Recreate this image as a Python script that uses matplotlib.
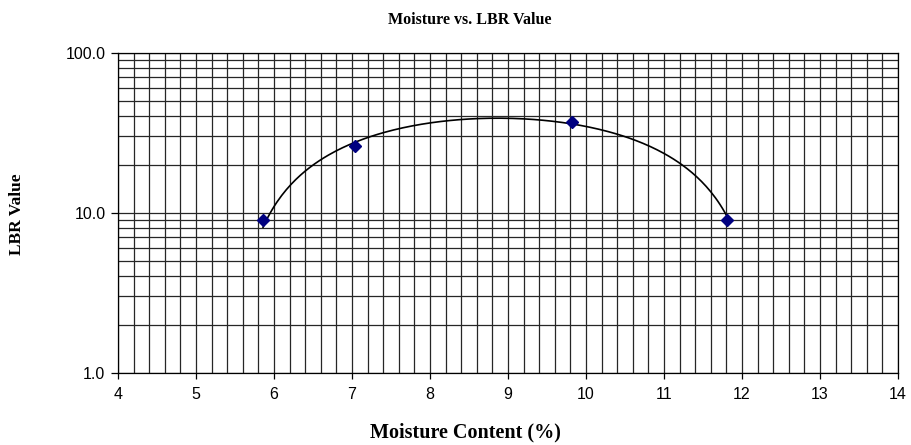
import numpy as np
import matplotlib
matplotlib.use("Agg")
import matplotlib.pyplot as plt
from matplotlib.ticker import MultipleLocator, LogLocator, FormatStrFormatter, NullFormatter

# data
moisture = [5.86, 7.04, 9.82, 11.81]
lbr = [9.0, 26.0, 37.0, 9.0]

# polynomial trendline (order 2), like the spreadsheet one
coef = np.polyfit(moisture, lbr, 2)
xs = np.linspace(min(moisture), max(moisture), 200)
ys = np.polyval(coef, xs)

W, H = 911, 445
fig = plt.figure(figsize=(W / 100, H / 100), dpi=100)
ax = fig.add_axes([118 / W, 1 - 372.7 / H, 780 / W, 320 / H])

ax.set_yscale('log')
ax.set_xlim(4, 14)
ax.set_ylim(1, 100)

ax.xaxis.set_major_locator(MultipleLocator(1))
ax.xaxis.set_minor_locator(MultipleLocator(0.2))
ax.yaxis.set_major_locator(LogLocator(base=10))
ax.yaxis.set_minor_locator(LogLocator(base=10, subs=np.arange(2, 10)))
ax.yaxis.set_major_formatter(FormatStrFormatter('%.1f'))
ax.yaxis.set_minor_formatter(NullFormatter())

ax.grid(which='both', color='#262626', lw=0.9)
ax.set_axisbelow(True)
ax.tick_params(which='minor', length=0)
ax.tick_params(axis='y', which='major', direction='out', length=5, width=0.9,
               labelsize=11.5, pad=4)
ax.tick_params(axis='x', which='major', direction='out', length=4, width=0.9,
               labelsize=11.5, pad=6)
for lbl in ax.get_xticklabels() + ax.get_yticklabels():
    lbl.set_fontfamily('Liberation Sans')
for s in ax.spines.values():
    s.set_color('black')
    s.set_linewidth(0.9)

ax.plot(xs, ys, color='black', lw=1.2, zorder=3)
ax.plot(moisture, lbr, linestyle='none', marker='D', ms=6,
        color='#000080', zorder=4)

serif = dict(fontfamily='Liberation Serif', fontweight='bold')
fig.text(470 / W, 1 - 20 / H, 'Moisture vs. LBR Value', ha='center',
         va='center', fontsize=11.5, **serif)
fig.text(465 / W, 1 - 432 / H, 'Moisture Content (%)', ha='center',
         va='center', fontsize=14.5, **serif)
fig.text(17 / W, 1 - 214 / H, 'LBR Value', ha='center', va='center',
         rotation=90, fontsize=12.5, **serif)

fig.savefig('out.png', dpi=100)
